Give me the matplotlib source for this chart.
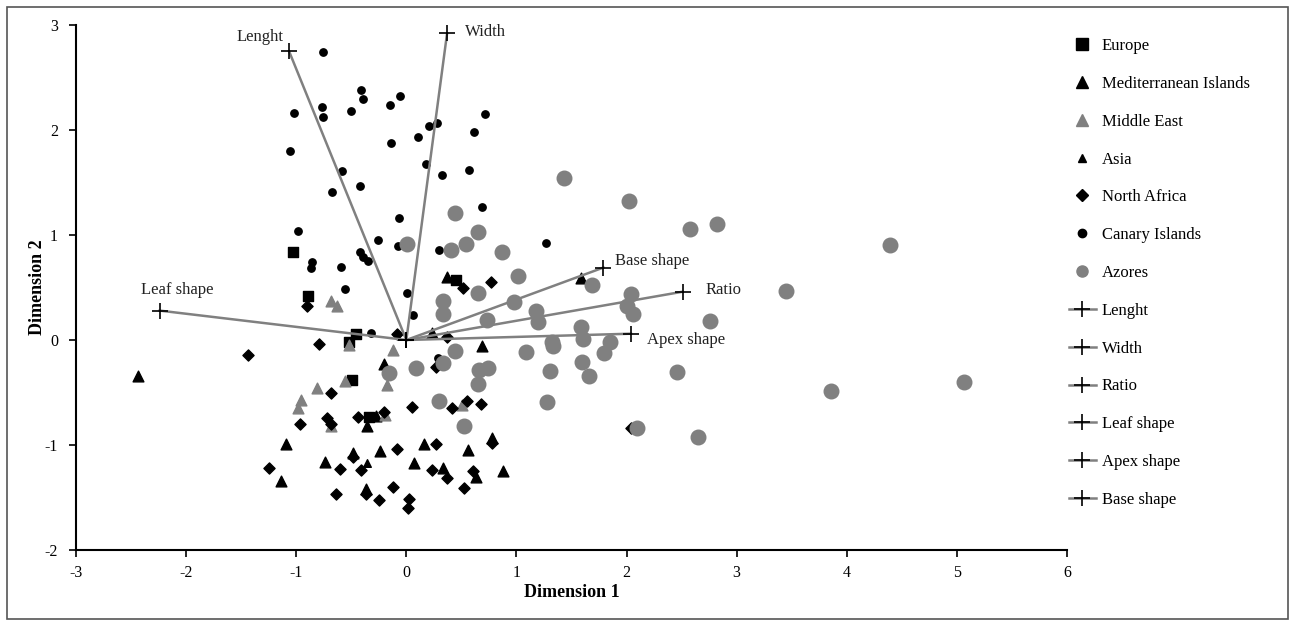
import matplotlib.pyplot as plt
from matplotlib.lines import Line2D
from matplotlib.patches import Rectangle

plt.rcParams['font.family'] = ['Liberation Serif', 'DejaVu Serif']
plt.rcParams['axes.unicode_minus'] = False

# group scores (dimension 1, dimension 2)
europe_x = [-1.026, -0.890, -0.457, -0.523, 0.449, -0.496, -0.336]
europe_y = [0.841, 0.416, 0.054, -0.016, 0.571, -0.381, -0.730]

med_x = [-2.437, -0.203, -1.093, -1.138, -0.736, -0.487, -0.360, -0.278, -0.239, 0.163, 0.073,
         0.336, -0.369, 0.367, 1.587, 0.231, 0.688, 0.558, 0.781, 0.881, 0.633]
med_y = [-0.340, -0.229, -0.988, -1.343, -1.159, -1.076, -0.819, -0.721, -1.054, -0.990, -1.169,
         -1.216, -1.419, 0.603, 0.593, 0.070, -0.054, -1.048, -0.933, -1.248, -1.308]

mideast_x = [-0.684, -0.632, -0.118, -0.808, -0.959, -0.986, -0.557, -0.178, -0.687, 0.509, -0.193, -0.520]
mideast_y = [0.371, 0.327, -0.095, -0.454, -0.571, -0.650, -0.388, -0.429, -0.819, -0.619, -0.714, -0.048]

asia_x = [-0.360]
asia_y = [-1.174]

nafrica_x = [-0.905, -1.438, -0.793, -0.087, 0.372, 0.267, 0.518, 0.767, -0.684, -0.965, -0.723, -0.687,
             -0.441, -0.203, 0.049, 0.418, 0.554, 0.676, -1.250, -0.602, -0.411, -0.487, -0.087, 0.270,
             0.236, 0.367, 0.603, -0.641, -0.369, -0.124, -0.248, 0.027, 0.018, 0.524, 0.781, 2.041]
nafrica_y = [0.324, -0.143, -0.038, 0.054, 0.026, -0.257, 0.492, 0.550, -0.508, -0.803, -0.746, -0.800,
             -0.736, -0.683, -0.635, -0.645, -0.581, -0.612, -1.222, -1.226, -1.241, -1.114, -1.038, -0.993,
             -1.238, -1.311, -1.248, -1.464, -1.467, -1.403, -1.524, -1.514, -1.603, -1.407, -0.981, -0.835]

canary_x = [-0.754, -0.411, -0.391, -0.768, -0.754, -0.505, -1.017, -0.145, -0.054, 0.209, 0.282, 0.109,
            -0.142, -1.056, -0.587, -0.423, -0.672, 0.176, 0.327, 0.712, 0.618, 0.572, -0.986, -0.064,
            -0.257, -0.078, 0.294, -0.859, -0.868, -0.596, -0.421, -0.391, -0.348, -0.554, 0.009, 0.061,
            -0.318, 0.690, 1.272, 0.285]
canary_y = [2.740, 2.381, 2.292, 2.219, 2.127, 2.184, 2.165, 2.238, 2.324, 2.041, 2.067, 1.933,
            1.879, 1.803, 1.612, 1.467, 1.412, 1.679, 1.569, 2.150, 1.978, 1.619, 1.041, 1.165,
            0.950, 0.898, 0.860, 0.740, 0.683, 0.695, 0.838, 0.788, 0.750, 0.486, 0.448, 0.238,
            0.070, 1.264, 0.924, -0.174]

azores_x = [1.435, 2.020, 0.445, 0.654, 0.542, 0.403, 0.009, 0.866, 2.579, 2.825, 3.446, 1.015,
            1.684, 0.333, 0.333, 0.651, 0.978, 1.181, 1.193, 0.730, 2.041, 2.002, 2.062, 2.756,
            1.589, 1.602, 1.321, 1.335, 1.850, 1.793, 1.087, 0.445, 0.088, 0.333, 0.660, 0.739,
            1.305, 1.599, 1.659, 2.456, 0.651, 0.297, 1.275, 0.524, 2.093, 2.647, -0.154, 4.393,
            3.857, 5.068]
azores_y = [1.540, 1.327, 1.210, 1.029, 0.917, 0.854, 0.911, 0.841, 1.057, 1.108, 0.470, 0.607,
            0.521, 0.371, 0.248, 0.445, 0.365, 0.279, 0.174, 0.188, 0.441, 0.324, 0.245, 0.184,
            0.124, 0.012, -0.022, -0.057, -0.022, -0.121, -0.114, -0.108, -0.264, -0.216, -0.289, -0.270,
            -0.298, -0.207, -0.343, -0.308, -0.416, -0.584, -0.588, -0.822, -0.835, -0.921, -0.311, 0.902,
            -0.489, -0.403]

# trait vectors
var_names = ['Lenght', 'Width', 'Ratio', 'Leaf shape', 'Apex shape', 'Base shape']
var_x = [-1.065, 0.370, 2.510, -2.240, 2.040, 1.790]
var_y = [2.750, 2.920, 0.460, 0.280, 0.060, 0.690]

gray = '#808080'

fig = plt.figure(figsize=(12.9, 6.21), dpi=100)
ax = fig.add_axes([76 / 1290, 71 / 621, 991 / 1290, 525 / 621])

ax.scatter(europe_x, europe_y, marker='s', s=55, color='black', zorder=2)
ax.scatter(med_x, med_y, marker='^', s=60, color='black', zorder=2)
ax.scatter(mideast_x, mideast_y, marker='^', s=60, color=gray, zorder=2)
ax.scatter(asia_x, asia_y, marker='^', s=30, color='black', zorder=2)
ax.scatter(nafrica_x, nafrica_y, marker='D', s=32, color='black', zorder=2)
ax.scatter(canary_x, canary_y, marker='o', s=28, color='black', zorder=2)
ax.scatter(azores_x, azores_y, marker='o', s=110, color=gray, zorder=2)

for vx, vy in zip(var_x, var_y):
    ax.plot([0, vx], [0, vy], color=gray, lw=1.8, zorder=3)
    ax.plot([0, vx], [0, vy], ls='none', marker='+', ms=12, mew=1.2, color='black', zorder=4)

# vector labels: (dx, dy) in points, horizontal alignment
offsets = {'Lenght': (-4, 10, 'right'), 'Width': (13, 0.7, 'left'), 'Ratio': (16.5, 1.5, 'left'),
           'Leaf shape': (-13.7, 15, 'left'), 'Apex shape': (11.5, -4.3, 'left'),
           'Base shape': (8, 5, 'left')}
for name, vx, vy in zip(var_names, var_x, var_y):
    dx, dy, ha = offsets[name]
    ax.annotate(name, (vx, vy), xytext=(dx, dy), textcoords='offset points',
                fontsize=12, color='#222222', ha=ha, va='center')

ax.set_xlim(-3, 6)
ax.set_ylim(-2, 3)
ax.set_xticks(range(-3, 7))
ax.set_yticks(range(-2, 4))
for s in ['top', 'right']:
    ax.spines[s].set_visible(False)
for s in ['left', 'bottom']:
    ax.spines[s].set_linewidth(1.5)
ax.tick_params(direction='out', length=5, width=1.2, labelsize=11.5)
ax.tick_params(axis='x', pad=6)
ax.tick_params(axis='y', pad=8)
ax.set_xlabel('Dimension 1', fontsize=13, fontweight='bold', labelpad=2)
ax.set_ylabel('Dimension 2', fontsize=13, fontweight='bold', labelpad=-1)

handles = [
    Line2D([], [], ls='none', marker='s', ms=8, color='black'),
    Line2D([], [], ls='none', marker='^', ms=8, color='black'),
    Line2D([], [], ls='none', marker='^', ms=8, color=gray),
    Line2D([], [], ls='none', marker='^', ms=6, color='black'),
    Line2D([], [], ls='none', marker='D', ms=6, color='black'),
    Line2D([], [], ls='none', marker='o', ms=6, color='black'),
    Line2D([], [], ls='none', marker='o', ms=8, color=gray),
]
labels = ['Europe', 'Mediterranean Islands', 'Middle East', 'Asia', 'North Africa', 'Canary Islands', 'Azores']
for name in var_names:
    handles.append(Line2D([], [], color=gray, lw=1.8, marker='+', ms=12, mew=1.2,
                          markeredgecolor='black'))
    labels.append(name)

fig.legend(handles, labels, loc='upper left', bbox_to_anchor=(1069 / 1290, 1 - 38 / 621),
           frameon=False, fontsize=12, labelspacing=1.31, handlelength=1.6, handletextpad=0.35,
           borderpad=0, borderaxespad=0)

fig.patches.append(Rectangle((7 / 1290, 2 / 621), 1281 / 1290, 612 / 621, transform=fig.transFigure,
                             fill=False, edgecolor='#555555', lw=1.2))

fig.savefig('out.png', dpi=100)
